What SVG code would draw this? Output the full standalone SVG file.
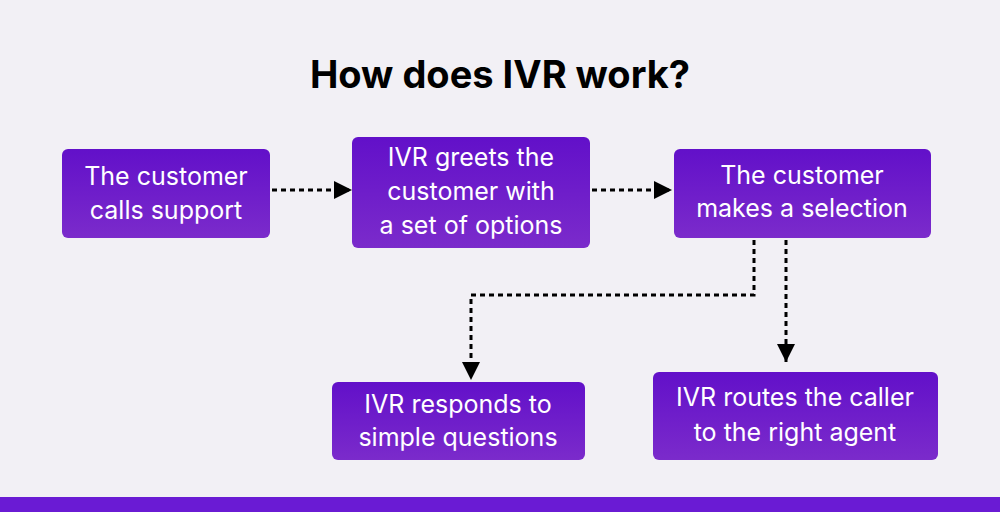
<svg xmlns="http://www.w3.org/2000/svg" width="1000" height="512" viewBox="0 0 1000 512">
<defs>
<linearGradient id="g" x1="0" y1="0" x2="0" y2="1"><stop offset="0" stop-color="#6210c9"/><stop offset="1" stop-color="#7b2bcb"/></linearGradient>
<marker id="a" viewBox="0 0 10 10" refX="10" refY="5" markerWidth="18" markerHeight="18" markerUnits="userSpaceOnUse" orient="auto"><path d="M0,0L10,5L0,10z" fill="#000"/></marker>
</defs>
<style>
.b{fill:url(#g)}
.t{font-family:Inter,"Liberation Sans",sans-serif;font-size:25px;fill:#fff;text-anchor:middle}
.c{fill:none;stroke:#000;stroke-width:3;stroke-dasharray:5 4;marker-end:url(#a)}
</style>
<rect width="1000" height="512" fill="#f2f0f5"/>
<rect y="497" width="1000" height="15" fill="#6a1bd4"/>
<text x="500" y="88" font-family="Inter,'Liberation Sans',sans-serif" font-weight="bold" font-size="38" text-anchor="middle" fill="#000">How does IVR work?</text>
<g id="n1"><rect class="b" x="62" y="149" width="208" height="89" rx="6"/><text class="t" x="166" y="185">The customer</text><text class="t" x="166" y="219">calls support</text></g>
<g id="n2"><rect class="b" x="352" y="137" width="238" height="111" rx="6"/><text class="t" x="471" y="166">IVR greets the</text><text class="t" x="471" y="200">customer with</text><text class="t" x="471" y="234">a set of options</text></g>
<g id="n3"><rect class="b" x="674" y="149" width="257" height="89" rx="6"/><text class="t" x="802" y="184">The customer</text><text class="t" x="802" y="217">makes a selection</text></g>
<g id="n4"><rect class="b" x="332" y="382" width="253" height="78" rx="6"/><text class="t" x="458" y="413">IVR responds to</text><text class="t" x="458" y="446">simple questions</text></g>
<g id="n5"><rect class="b" x="653" y="372" width="285" height="88" rx="6"/><text class="t" x="795" y="406">IVR routes the caller</text><text class="t" x="795" y="441">to the right agent</text></g>
<g id="connectors">
<path class="c" d="M272,190H352"/>
<path class="c" d="M592,190H672"/>
<path class="c" d="M754,240V295H471V380"/>
<path class="c" d="M786,240V362"/>
</g>
</svg>
